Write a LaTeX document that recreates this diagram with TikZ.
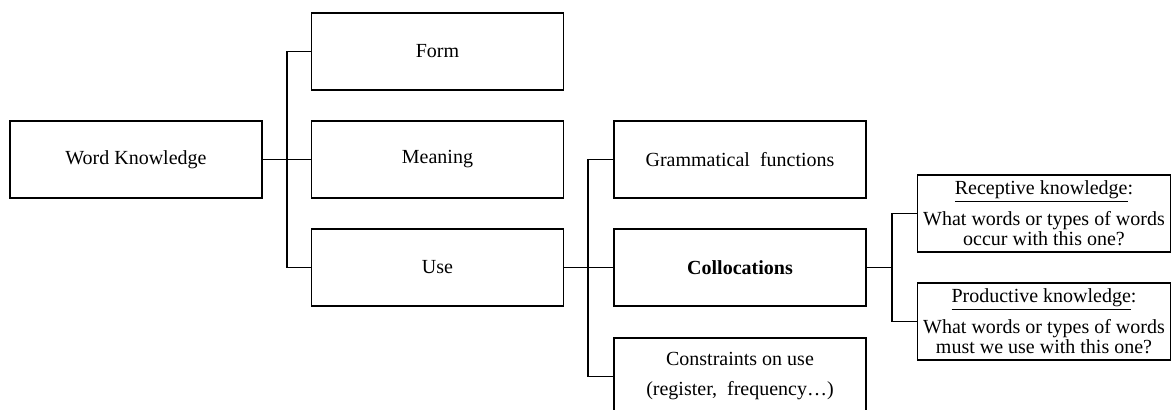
\documentclass[tikz,border=0pt]{standalone}
\usepackage{fontspec}
\setmainfont{Liberation Serif}
\usepackage{tikz}

\begin{document}
\begin{tikzpicture}[x=0.75pt, y=-0.75pt,
					box/.style={rectangle, draw=black, line width=0.9pt, minimum width=189pt, minimum height=57.75pt, inner sep=2pt, align=center, font=\fontsize{15}{15.5}\selectfont},
					note/.style={box, minimum width=190pt},
					link/.style={-, line width=0.9pt}]
	\useasboundingbox (0,0) rectangle (1174,410);
	\clip (0,0) rectangle (1174,410);
	% first level
	\node[box] (wk) at (136,159.5) {Word Knowledge};
	\node[box] (form) at (437.5,51.5) {Form};
	\node[box] (meaning) at (437.5,159.5) {Meaning};
	\node[box] (use) at (437.5,267.5) {Use};
	% second level
	\node[box] (gram) at (740,159.5) {Grammatical\ \ functions};
	\node[box] (coll) at (740,267.5) {\textbf{Collocations}};
	\node[box] (constr) at (740,376.5) {Constraints on use\\[7pt](register,\ \ frequency…)};
	% third level
	\node[note, minimum height=57.75pt] (recep) at (1044,213.5) {\underline{Receptive knowledge}:\\[6pt]What words or types of words\\occur with this one?};
	\node[note, minimum height=57.75pt] (prod) at (1044,321.5) {\underline{Productive knowledge}:\\[6pt]What words or types of words\\must we use with this one?};
	% connectors
	\coordinate (t1) at (287,0);
	\coordinate (t2) at (588,0);
	\coordinate (t3) at (892,0);
	\draw[link] (wk.east) -- (wk.east -| t1);
	\draw[link] (form.west) -- (form.west -| t1) -- (use.west -| t1) -- (use.west);
	\draw[link] (meaning.west) -- (meaning.west -| t1);
	\draw[link] (use.east) -- (use.east -| t2);
	\draw[link] (gram.west) -- (gram.west -| t2) -- (constr.west -| t2) -- (constr.west);
	\draw[link] (coll.west) -- (coll.west -| t2);
	\draw[link] (coll.east) -- (coll.east -| t3);
	\draw[link] (recep.west) -- (recep.west -| t3) -- (prod.west -| t3) -- (prod.west);
\end{tikzpicture}
\end{document}
